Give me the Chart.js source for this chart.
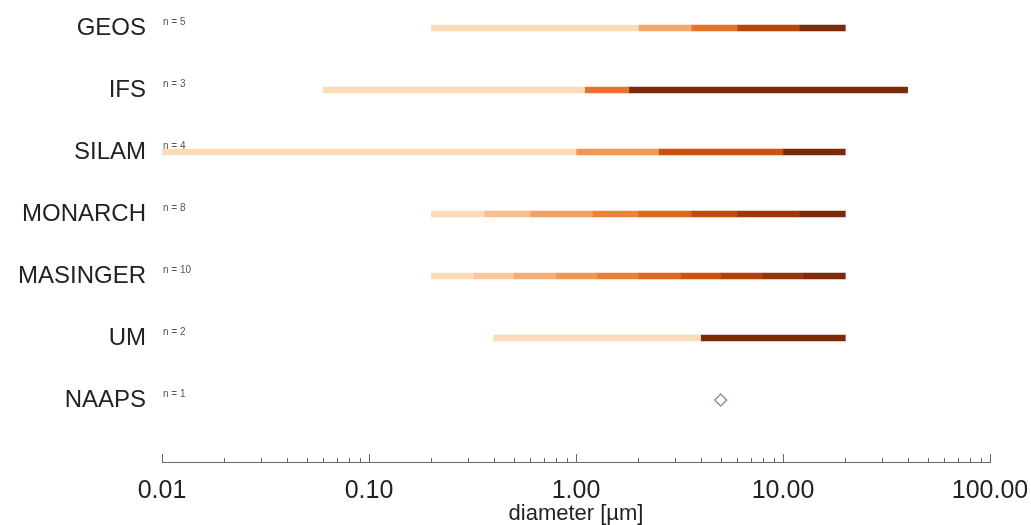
<!DOCTYPE html>
<html lang="en">
<head>
    <meta charset="UTF-8">
    <title>Dust size bins</title>
    <script src="https://cdn.jsdelivr.net/npm/chart.js"></script>
    <style>
        html, body { margin: 0; padding: 0; background: #fff; }
        #wrap { width: 1031px; height: 525px; }
    </style>
</head>
<body>
<div id="wrap"><canvas id="myChart"></canvas></div>

<script>
    // models and their size bin edges (diameter in µm)
    const models = ['GEOS', 'IFS', 'SILAM', 'MONARCH', 'MASINGER', 'UM', 'NAAPS']
    const binCounts = [5, 3, 4, 8, 10, 2, 1]

    const geosEdges = [0.2, 2, 3.6, 6, 12, 20]
    const ifsEdges = [0.06, 1.1, 1.8, 40]
    const silamEdges = [0.01, 1, 2.5, 10, 20]
    const monarchEdges = [0.2, 0.36, 0.6, 1.2, 2, 3.6, 6, 12, 20]
    const masingerEdges = [0.2, 0.32, 0.5, 0.8, 1.26, 2, 3.2, 5, 8, 12.6, 20]
    const umEdges = [0.4, 4, 20]
    const naapsDiameter = [5]

    const xTicks = [0.01, 0.1, 1, 10, 100]

    const allEdges = [geosEdges, ifsEdges, silamEdges, monarchEdges, masingerEdges, umEdges, null]

    // matplotlib "Oranges", a bit muted like the scanned figure
    const orangeStops = ['#fff5eb', '#fee6ce', '#fdd3aa', '#f4ae76', '#ef8f4a', '#e36d22', '#cc4d0c', '#a0390a', '#7c2a0a']
    const hex = h => [1, 3, 5].map(i => parseInt(h.substr(i, 2), 16))
    function oranges(t) {
        const p = Math.max(0, Math.min(1, t)) * (orangeStops.length - 1)
        const i = Math.min(Math.floor(p), orangeStops.length - 2)
        const f = p - i
        const a = hex(orangeStops[i]), b = hex(orangeStops[i + 1])
        const c = a.map((v, k) => Math.round(v + (b[k] - v) * f))
        return 'rgb(' + c.join(',') + ')'
    }

    const maxBins = Math.max(...binCounts)
    const datasets = []
    for (let k = 0; k < maxBins; k++) {
        const data = []
        allEdges.forEach((e, i) => {
            if (e && e.length > k + 1) data.push({ y: i, x: [e[k], e[k + 1]] })
        })
        datasets.push({
            type: 'bar',
            data: data,
            grouped: false,
            barThickness: 6,
            borderWidth: 0,
            borderSkipped: false,
            backgroundColor: c => {
                if (!c.raw) return '#000'
                const n = binCounts[c.raw.y]
                return oranges(0.2 + 0.8 * c.datasetIndex / (n - 1))
            }
        })
    }
    datasets.push({
        type: 'scatter',
        data: naapsDiameter.map(d => ({ x: d, y: models.indexOf('NAAPS') })),
        pointStyle: 'rectRot',
        radius: 6,
        backgroundColor: '#fff',
        borderColor: '#a08c84',
        borderWidth: 1.5
    })

    const extras = {
        id: 'extras',
        afterDraw(chart) {
            const ctx = chart.ctx
            const xs = chart.scales.x, ys = chart.scales.y
            const base = chart.chartArea.bottom
            ctx.save()
            // tick marks pointing up from the axis line
            ctx.strokeStyle = '#666'
            ctx.lineWidth = 1
            ctx.beginPath()
            for (let d = 0; d < xTicks.length; d++) {
                const mx = d < xTicks.length - 1 ? 9 : 1
                for (let m = 1; m <= mx; m++) {
                    const px = Math.round(xs.getPixelForValue(m * xTicks[d])) + 0.5
                    ctx.moveTo(px, base)
                    ctx.lineTo(px, base - (m === 1 ? 8 : 4))
                }
            }
            ctx.stroke()
            // n = ... notes
            ctx.fillStyle = '#555'
            ctx.font = '10px "Liberation Sans", Arial, sans-serif'
            ctx.textBaseline = 'middle'
            ctx.textAlign = 'left'
            models.forEach((m, i) => {
                ctx.fillText('n = ' + binCounts[i], chart.chartArea.left + 1, ys.getPixelForValue(i) - 6)
            })
            ctx.restore()
        }
    }

    const ctx = document.getElementById('myChart')
    const myChart = new Chart(ctx, {
        data: { datasets: datasets },
        options: {
            indexAxis: 'y',
            responsive: true,
            maintainAspectRatio: false,
            animation: false,
            layout: { padding: { left: 0, right: 41, top: 0, bottom: 0 } },
            plugins: { legend: { display: false }, tooltip: { enabled: false } },
            scales: {
                y: {
                    type: 'linear',
                    reverse: true,
                    offset: false,
                    min: -0.33,
                    max: 7.0,
                    afterBuildTicks: s => { s.ticks = models.map((m, i) => ({ value: i })) },
                    afterFit: s => {
                        s.width = 162
                        s.paddingTop = 0
                        s.paddingBottom = 0
                    },
                    ticks: {
                        callback: v => models[v],
                        padding: 8,
                        color: '#222',
                        font: { family: '"Liberation Sans", Arial, sans-serif', size: 24 }
                    },
                    grid: { display: false },
                    border: { display: false }
                },
                x: {
                    type: 'logarithmic',
                    position: 'bottom',
                    min: 0.01,
                    max: 100,
                    afterFit: s => {
                        s.height = 63
                        s.paddingLeft = 0
                        s.paddingRight = 0
                    },
                    ticks: {
                        autoSkip: false,
                        maxRotation: 0,
                        padding: 14,
                        color: '#222',
                        font: { family: '"Liberation Sans", Arial, sans-serif', size: 25 },
                        callback: v => xTicks.some(t => Math.abs(t - v) < t * 1e-6) ? v.toFixed(2) : ''
                    },
                    grid: { display: true, drawOnChartArea: false, drawTicks: false },
                    border: { display: true, color: '#666', width: 1 },
                    title: {
                        display: true,
                        text: 'diameter [µm]',
                        color: '#222',
                        padding: 0,
                        font: { family: '"Liberation Sans", Arial, sans-serif', size: 22, lineHeight: 1.0 }
                    }
                }
            }
        },
        plugins: [extras]
    })
</script>
</body>
</html>
